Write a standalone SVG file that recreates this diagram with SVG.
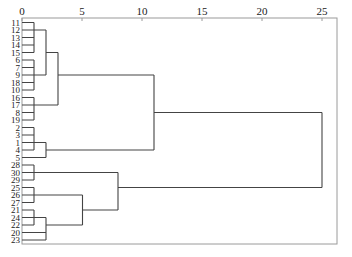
<svg xmlns="http://www.w3.org/2000/svg" width="352" height="257" viewBox="0 0 352 257">
<style>
.frame{fill:none;stroke:#9a9a9a;stroke-width:1}
.tick{stroke:#9a9a9a;stroke-width:1}
.ax{font-family:"Liberation Serif","Times New Roman",serif;font-size:11px;fill:#222;text-anchor:middle}
.lbl{font-family:"Liberation Serif","Times New Roman",serif;font-size:9px;fill:#222;text-anchor:end}
.ln{fill:none;stroke:#444;stroke-width:1.1}
</style>
<rect width="352" height="257" fill="#fff"/>
<g id="axis">
<rect class="frame" x="22" y="18" width="315" height="226" fill="#fdfdfd"/>
<path class="tick" d="M22,18V21M82,18V21M142,18V21M202,18V21M262,18V21M322,18V21"/>
<text class="ax" x="22" y="15">0</text>
<text class="ax" x="82" y="15">5</text>
<text class="ax" x="142" y="15">10</text>
<text class="ax" x="202" y="15">15</text>
<text class="ax" x="262" y="15">20</text>
<text class="ax" x="322" y="15">25</text>
</g>
<g id="leaves">
<g id="n11"><text class="lbl" x="20" y="25.7">11</text></g>
<g id="n12"><text class="lbl" x="20" y="33.2">12</text></g>
<g id="n13"><text class="lbl" x="20" y="40.7">13</text></g>
<g id="n14"><text class="lbl" x="20" y="48.2">14</text></g>
<g id="n15"><text class="lbl" x="20" y="55.7">15</text></g>
<g id="n6"><text class="lbl" x="20" y="63.2">6</text></g>
<g id="n7"><text class="lbl" x="20" y="70.7">7</text></g>
<g id="n9"><text class="lbl" x="20" y="78.2">9</text></g>
<g id="n18"><text class="lbl" x="20" y="85.7">18</text></g>
<g id="n10"><text class="lbl" x="20" y="93.2">10</text></g>
<g id="n16"><text class="lbl" x="20" y="100.7">16</text></g>
<g id="n17"><text class="lbl" x="20" y="108.2">17</text></g>
<g id="n8"><text class="lbl" x="20" y="115.7">8</text></g>
<g id="n19"><text class="lbl" x="20" y="123.2">19</text></g>
<g id="n2"><text class="lbl" x="20" y="130.7">2</text></g>
<g id="n3"><text class="lbl" x="20" y="138.2">3</text></g>
<g id="n1"><text class="lbl" x="20" y="145.7">1</text></g>
<g id="n4"><text class="lbl" x="20" y="153.2">4</text></g>
<g id="n5"><text class="lbl" x="20" y="160.7">5</text></g>
<g id="n28"><text class="lbl" x="20" y="168.2">28</text></g>
<g id="n30"><text class="lbl" x="20" y="175.7">30</text></g>
<g id="n29"><text class="lbl" x="20" y="183.2">29</text></g>
<g id="n25"><text class="lbl" x="20" y="190.7">25</text></g>
<g id="n26"><text class="lbl" x="20" y="198.2">26</text></g>
<g id="n27"><text class="lbl" x="20" y="205.7">27</text></g>
<g id="n21"><text class="lbl" x="20" y="213.2">21</text></g>
<g id="n24"><text class="lbl" x="20" y="220.7">24</text></g>
<g id="n22"><text class="lbl" x="20" y="228.2">22</text></g>
<g id="n20"><text class="lbl" x="20" y="235.7">20</text></g>
<g id="n23"><text class="lbl" x="20" y="243.2">23</text></g>
</g>
<g id="connectors">
<path class="ln" d="M22,22.5H34M22,30H34M22,37.5H34M22,45H34M22,52.5H34M34,22.5V52.5M34,30H46"/>
<path class="ln" d="M22,60H34M22,67.5H34M22,75H34M22,82.5H34M22,90H34M34,60V90M34,75H46"/>
<path class="ln" d="M46,30V75M46,52.5H58"/>
<path class="ln" d="M22,97.5H34M22,105H34M22,112.5H34M22,120H34M34,97.5V120M34,105H58"/>
<path class="ln" d="M58,52.5V105M58,75H154"/>
<path class="ln" d="M22,127.5H34M22,135H34M22,142.5H34M22,150H34M34,127.5V150M34,142.5H46"/>
<path class="ln" d="M22,157.5H46M46,142.5V157.5M46,150H154"/>
<path class="ln" d="M154,75V150M154,112.5H322"/>
<path class="ln" d="M22,165H34M22,172.5H34M22,180H34M34,165V180M34,172.5H118"/>
<path class="ln" d="M22,187.5H34M22,195H34M22,202.5H34M34,187.5V202.5M34,195H82.5"/>
<path class="ln" d="M22,210H34M22,217.5H34M22,225H34M34,210V225M34,217.5H46"/>
<path class="ln" d="M22,232.5H46M22,240H46M46,217.5V240M46,225H82.5"/>
<path class="ln" d="M82.5,195V225M82.5,210H118"/>
<path class="ln" d="M118,172.5V210M118,187.5H322"/>
<path class="ln" d="M322,112.5V187.5"/>
</g>
</svg>
